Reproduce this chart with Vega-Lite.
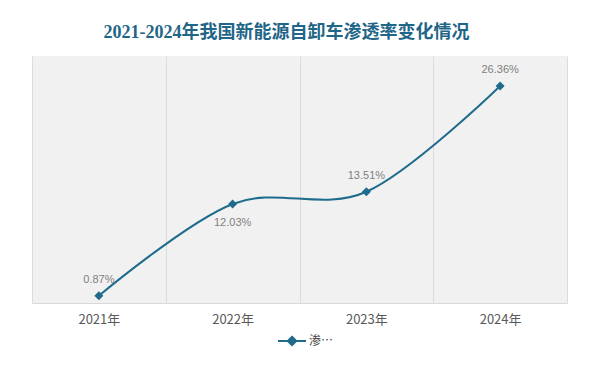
{
  "$schema": "https://vega.github.io/schema/vega-lite/v6.json",
  "width": 535,
  "height": 247,
  "autosize": "none",
  "padding": {"left": 32, "top": 56, "right": 27, "bottom": 63},
  "background": "#ffffff",
  "config": {
    "view": {"fill": "#f1f1f1", "stroke": null},
    "font": "Noto Sans CJK SC"
  },
  "title": {
    "text": "2021-2024年我国新能源自卸车渗透率变化情况",
    "font": "'Liberation Serif', 'Noto Sans CJK SC'",
    "fontSize": 18,
    "fontWeight": "bold",
    "color": "#1f6688",
    "anchor": "middle",
    "dx": -13,
    "offset": 14
  },
  "data": {
    "values": [
      {"year": "2021年", "rate": 0.87, "label": "0.87%", "series": "渗透率"},
      {"year": "2022年", "rate": 12.03, "label": "12.03%", "series": "渗透率"},
      {"year": "2023年", "rate": 13.51, "label": "13.51%", "series": "渗透率"},
      {"year": "2024年", "rate": 26.36, "label": "26.36%", "series": "渗透率"}
    ]
  },
  "encoding": {
    "x": {
      "field": "year",
      "type": "nominal",
      "sort": null,
      "scale": {"paddingInner": 0, "paddingOuter": 0},
      "axis": {
        "title": null,
        "labelAngle": 0,
        "labelFontSize": 13,
        "labelColor": "#595959",
        "labelPadding": 10,
        "tickBand": "extent",
        "ticks": false,
        "grid": true,
        "gridColor": "#dcdcdc",
        "gridWidth": 1,
        "domainColor": "#d9d9d9",
        "domainWidth": 1
      }
    },
    "y": {
      "field": "rate",
      "type": "quantitative",
      "scale": {"domain": [0, 30], "nice": false},
      "axis": null
    }
  },
  "layer": [
    {
      "mark": {"type": "line", "interpolate": "cardinal", "tension": 0, "strokeWidth": 2},
      "encoding": {
        "color": {
          "field": "series",
          "type": "nominal",
          "scale": {"range": ["#1f6b8c"]},
          "legend": {
            "title": null,
            "orient": "none",
            "legendX": 245,
            "legendY": 270,
            "padding": 0,
            "symbolType": "M-1,0H1M0,-0.3L0.3,0L0,0.3L-0.3,0Z",
            "symbolSize": 784,
            "labelFontSize": 12,
            "labelColor": "#404040",
            "labelOffset": 2,
            "labelLimit": 26,
            "encode": {
              "symbols": {
                "update": {
                  "fill": {"value": "#1f6b8c"},
                  "stroke": {"value": "#1f6b8c"},
                  "strokeWidth": {"value": 2},
                  "opacity": {"value": 1}
                }
              }
            }
          }
        }
      }
    },
    {
      "mark": {"type": "point", "shape": "diamond", "filled": true, "size": 80, "opacity": 1, "color": "#1f6b8c"}
    },
    {
      "transform": [{"filter": "datum.year != '2022年'"}],
      "mark": {"type": "text", "dy": -16, "fontSize": 11, "color": "#7f7f7f", "font": "Liberation Sans"},
      "encoding": {"text": {"field": "label"}}
    },
    {
      "transform": [{"filter": "datum.year == '2022年'"}],
      "mark": {"type": "text", "dy": 19, "fontSize": 11, "color": "#7f7f7f", "font": "Liberation Sans"},
      "encoding": {"text": {"field": "label"}}
    }
  ]
}
